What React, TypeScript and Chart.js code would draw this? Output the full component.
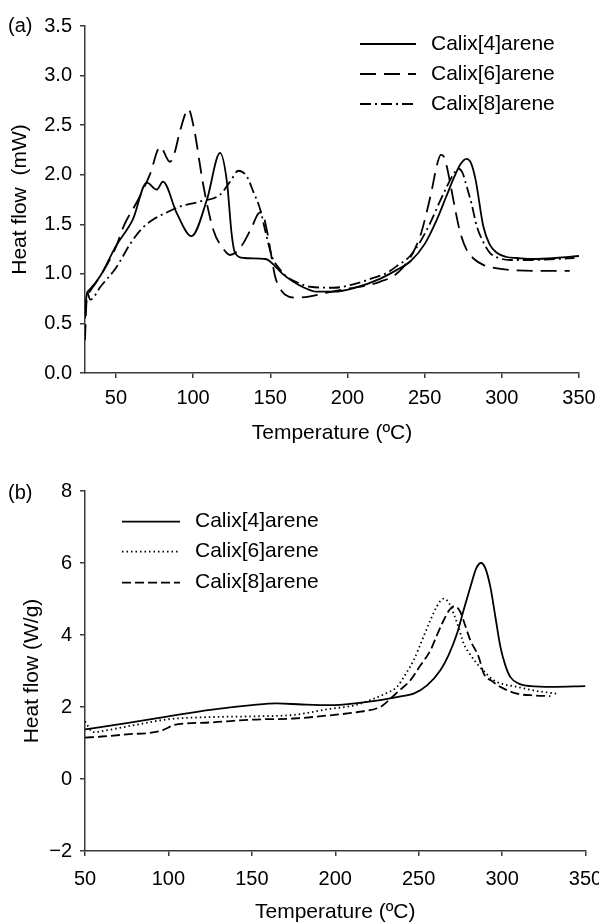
import React, { useEffect, useRef } from 'react';
import { Chart, registerables } from 'chart.js';

Chart.register(...registerables);

const FONT = "'Liberation Sans', Arial, Helvetica, sans-serif";
const AXIS = '#3a3a3a';

// ---------- Panel (a) ----------
const A_XTICKS = [50, 100, 150, 200, 250, 300, 350];
const A_YTICKS = [0, 0.5, 1.0, 1.5, 2.0, 2.5, 3.0, 3.5];

const a4T = [30, 31, 33, 40, 50, 61, 70, 76.5, 80.5, 89.5, 99, 109, 117.5, 122, 125, 127, 133, 147, 151, 158, 165, 172, 180, 191, 205, 221, 232, 241, 250, 258, 264, 269, 273, 277, 280, 283, 288, 292, 297, 303, 310, 320, 335, 350];
const a4V = [0.55, 0.78, 0.84, 0.98, 1.28, 1.55, 1.92, 1.85, 1.93, 1.61, 1.38, 1.75, 2.22, 1.92, 1.40, 1.22, 1.16, 1.15, 1.11, 1.0, 0.92, 0.86, 0.82, 0.82, 0.86, 0.95, 1.04, 1.13, 1.3, 1.55, 1.78, 1.97, 2.1, 2.16, 2.12, 1.95, 1.48, 1.3, 1.21, 1.17, 1.16, 1.15, 1.16, 1.18];

const a6T = [30, 31, 33, 40, 50, 55, 64.5, 72, 78.7, 85, 88, 91.7, 97, 100.3, 106.8, 113.2, 119.7, 124, 128, 132.6, 138, 142.4, 144.5, 147.8, 150.5, 153.2, 156.5, 159.7, 167, 175, 186.7, 200, 214.7, 221, 230, 236.3, 242, 247.1, 251, 254.7, 258, 260.5, 262.5, 264.4, 267, 269.8, 273, 277.3, 282, 288, 295, 305, 320, 335, 344];
const a6V = [0.33, 0.72, 0.82, 0.98, 1.27, 1.48, 1.75, 2.0, 2.28, 2.13, 2.22, 2.45, 2.66, 2.49, 1.88, 1.44, 1.25, 1.19, 1.22, 1.31, 1.47, 1.61, 1.62, 1.44, 1.2, 0.97, 0.85, 0.79, 0.76, 0.77, 0.81, 0.85, 0.89, 0.92, 0.98, 1.07, 1.2, 1.38, 1.6, 1.85, 2.1, 2.2, 2.18, 2.08, 1.88, 1.65, 1.42, 1.24, 1.15, 1.09, 1.06, 1.04, 1.03, 1.03, 1.03];

const a8T = [31.5, 33.5, 40, 50, 60, 67, 74.4, 83, 91.7, 104.6, 117.6, 124, 129.4, 134.9, 139, 143.5, 147, 151, 156, 160.8, 168, 175.9, 191, 205, 215, 225.5, 233, 240.6, 247, 253.5, 259, 264.4, 268.5, 271.9, 274.5, 277.3, 280.5, 283.8, 288, 292.4, 298, 305.4, 320, 335, 347];
const a8V = [0.82, 0.74, 0.87, 1.06, 1.32, 1.46, 1.55, 1.62, 1.68, 1.73, 1.80, 1.93, 2.04, 1.98, 1.83, 1.65, 1.42, 1.18, 1.05, 0.97, 0.91, 0.87, 0.86, 0.9, 0.95, 1.01, 1.09, 1.18, 1.32, 1.51, 1.7, 1.88, 2.0, 2.06, 2.02, 1.88, 1.7, 1.48, 1.32, 1.21, 1.16, 1.14, 1.14, 1.15, 1.16];

// ---------- Panel (b) ----------
const B_XTICKS = [50, 100, 150, 200, 250, 300, 350];
const B_YTICKS = [-2, 0, 2, 4, 6, 8];

const b4T = [50, 75, 100, 125, 150, 165, 180, 197, 212, 227, 240, 247, 255, 263, 268, 273, 277, 281, 284.5, 287.4, 290, 293, 296, 299, 302, 305, 310, 317, 330, 350];
const b4V = [1.38, 1.55, 1.74, 1.92, 2.05, 2.1, 2.07, 2.05, 2.1, 2.19, 2.3, 2.37, 2.6, 3.02, 3.45, 4.04, 4.7, 5.33, 5.85, 6.0, 5.85, 5.33, 4.5, 3.67, 3.15, 2.83, 2.65, 2.58, 2.56, 2.58];

const b6T = [50, 55, 60, 80, 100, 125, 150, 175, 197, 212, 223, 230, 237, 242, 247, 252, 257, 261, 265, 268, 271, 274, 277, 281, 285, 290, 295, 302, 309, 320, 333];
const b6V = [1.6, 1.3, 1.33, 1.5, 1.66, 1.72, 1.74, 1.78, 1.95, 2.05, 2.23, 2.37, 2.56, 2.9, 3.3, 3.85, 4.41, 4.8, 5.01, 4.9, 4.59, 4.2, 3.76, 3.45, 3.2, 2.95, 2.74, 2.62, 2.56, 2.45, 2.37];

const b8T = [50, 60, 75, 95, 100, 103, 125, 150, 175, 197, 215, 227, 230, 233, 239, 245, 251, 257, 261, 265, 268.5, 271.4, 275, 278, 281, 286, 289, 294, 299, 309, 320, 329];
const b8V = [1.15, 1.18, 1.24, 1.33, 1.43, 1.5, 1.57, 1.65, 1.68, 1.77, 1.87, 2.0, 2.1, 2.23, 2.48, 2.74, 3.15, 3.57, 4.0, 4.41, 4.7, 4.8, 4.64, 4.25, 3.85, 3.39, 2.93, 2.72, 2.56, 2.37, 2.32, 2.3];

const NAMES = ['Calix[4]arene', 'Calix[6]arene', 'Calix[8]arene'];

const DASH_A = [[], [16, 8], [11, 4, 2, 4]];
const DASH_B = [[], [1.5, 3], [9, 4]];

function pts(T: number[], V: number[]) {
  return T.map((t, i) => ({ x: t, y: V[i] }));
}

function ds(label: string, T: number[], V: number[], dash: number[]) {
  return {
    label,
    data: pts(T, V),
    borderColor: '#000',
    backgroundColor: '#000',
    borderWidth: 1.8,
    borderDash: dash,
    pointRadius: 0,
    fill: false,
    cubicInterpolationMode: 'monotone' as const,
  };
}

function overlayPlugin(id: string, panel: string, panelY: number, dashes: number[][], x0: number, x1: number, xt: number, ys: number[]) {
  return {
    id,
    afterDraw(chart: any) {
      const ctx = chart.ctx;
      ctx.save();
      ctx.fillStyle = '#000';
      ctx.textBaseline = 'middle';
      ctx.textAlign = 'left';
      ctx.font = `20px ${FONT}`;
      ctx.fillText(panel, 8, panelY);
      ctx.font = `21px ${FONT}`;
      for (let i = 0; i < NAMES.length; i++) {
        ctx.strokeStyle = '#000';
        ctx.lineWidth = 1.8;
        ctx.lineCap = 'butt';
        ctx.setLineDash(dashes[i]);
        ctx.beginPath();
        ctx.moveTo(x0, ys[i]);
        ctx.lineTo(x1, ys[i]);
        ctx.stroke();
        ctx.setLineDash([]);
        ctx.fillText(NAMES[i], xt, ys[i]);
      }
      ctx.restore();
    },
  };
}

function axisCommon() {
  return {
    grid: { drawOnChartArea: false, drawTicks: true, tickLength: 5, color: AXIS, lineWidth: 1.5 },
    border: { display: true, color: AXIS, width: 1.5 },
  };
}

function buildConfig(opts: {
  datasets: any[];
  xmin: number; xmax: number; ymin: number; ymax: number;
  xticks: number[]; yticks: number[];
  yfmt: (v: number) => string;
  ytitle: string; ytitlePad: number;
  xAxisH: number; xTickPad: number; xTitlePad: number;
  padTop: number; padRight: number;
  plugin: any;
}) {
  return {
    type: 'line' as const,
    data: { datasets: opts.datasets },
    plugins: [opts.plugin],
    options: {
      animation: false as const,
      responsive: false,
      devicePixelRatio: 1,
      layout: { padding: { top: opts.padTop, right: opts.padRight, left: 0, bottom: 0 } },
      plugins: { legend: { display: false }, tooltip: { enabled: false } },
      scales: {
        x: {
          type: 'linear' as const,
          min: opts.xmin,
          max: opts.xmax,
          afterBuildTicks: (s: any) => { s.ticks = opts.xticks.map((v) => ({ value: v })); },
          afterFit: (s: any) => { s.height = opts.xAxisH; },
          ...axisCommon(),
          ticks: { font: { size: 20, family: FONT }, color: '#000', padding: opts.xTickPad, maxRotation: 0, autoSkip: false, callback: (v: any) => String(v) },
          title: { display: true, text: 'Temperature (ºC)', font: { size: 21, family: FONT }, color: '#000', padding: opts.xTitlePad },
        },
        y: {
          type: 'linear' as const,
          min: opts.ymin,
          max: opts.ymax,
          afterBuildTicks: (s: any) => { s.ticks = opts.yticks.map((v) => ({ value: v })); },
          afterFit: (s: any) => { s.width = 85; },
          ...axisCommon(),
          ticks: { font: { size: 20, family: FONT }, color: '#000', padding: 8, autoSkip: false, callback: (v: any) => opts.yfmt(Number(v)) },
          title: { display: true, text: opts.ytitle, font: { size: 21, family: FONT }, color: '#000', padding: opts.ytitlePad },
        },
      },
    },
  };
}

export default function App() {
  const refA = useRef<HTMLCanvasElement>(null);
  const refB = useRef<HTMLCanvasElement>(null);

  useEffect(() => {
    Chart.defaults.font.family = FONT;
    const chartA = new Chart(refA.current as HTMLCanvasElement, buildConfig({
      datasets: [
        ds(NAMES[0], a4T, a4V, DASH_A[0]),
        ds(NAMES[1], a6T, a6V, DASH_A[1]),
        ds(NAMES[2], a8T, a8V, DASH_A[2]),
      ],
      xmin: 30, xmax: 350, ymin: 0, ymax: 3.5,
      xticks: A_XTICKS, yticks: A_YTICKS,
      yfmt: (v) => v.toFixed(1),
      ytitle: 'Heat flow  (mW)', ytitlePad: 7.4,
      xAxisH: 87, xTickPad: 8, xTitlePad: 14.4,
      padTop: 26, padRight: 41,
      plugin: overlayPlugin('overlayA', '(a)', 26, DASH_A, 360, 416, 431, [44, 74, 104]),
    }) as any);

    const chartB = new Chart(refB.current as HTMLCanvasElement, buildConfig({
      datasets: [
        ds(NAMES[0], b4T, b4V, DASH_B[0]),
        ds(NAMES[1], b6T, b6V, DASH_B[1]),
        ds(NAMES[2], b8T, b8V, DASH_B[2]),
      ],
      xmin: 50, xmax: 350, ymin: -2, ymax: 8,
      xticks: B_XTICKS, yticks: B_YTICKS,
      yfmt: (v) => (v < 0 ? '\u2212' + Math.abs(v) : String(v)),
      ytitle: 'Heat flow (W/g)', ytitlePad: 19.4,
      xAxisH: 89, xTickPad: 11, xTitlePad: 15.4,
      padTop: 31, padRight: 34.5,
      plugin: overlayPlugin('overlayB', '(b)', 33, DASH_B, 122, 180, 195, [61.7, 91.7, 122.7]),
    }) as any);

    return () => {
      chartA.destroy();
      chartB.destroy();
    };
  }, []);

  return (
    <div style={{ position: 'fixed', left: 0, top: 0, width: 599, height: 923, overflow: 'hidden', background: '#fff' }}>
      <canvas ref={refA} width={620} height={460} style={{ position: 'absolute', left: 0, top: 0, width: 620, height: 460 }} />
      <canvas ref={refB} width={620} height={480} style={{ position: 'absolute', left: 0, top: 460, width: 620, height: 480 }} />
    </div>
  );
}
